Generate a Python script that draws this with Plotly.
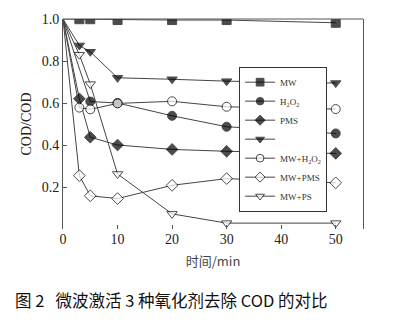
import plotly.graph_objects as go

t_all = [0, 3, 5, 10, 20, 30, 50]
t_h2o2 = [0, 5, 10, 20, 30, 50]

mw = [1.0, 0.999, 0.999, 0.995, 0.995, 0.995, 0.982]
h2o2 = [1.0, 0.607, 0.600, 0.539, 0.487, 0.455]
pms = [1.0, 0.62, 0.437, 0.40, 0.379, 0.37, 0.36]
ps = [1.0, 0.874, 0.844, 0.72, 0.713, 0.704, 0.695]
mw_h2o2 = [1.0, 0.578, 0.57, 0.598, 0.608, 0.582, 0.571]
mw_pms = [1.0, 0.254, 0.158, 0.145, 0.208, 0.24, 0.22]
mw_ps = [1.0, 0.83, 0.69, 0.262, 0.072, 0.028, 0.028]

x_ticks = [0, 10, 20, 30, 40, 50]
y_ticks = [0.2, 0.4, 0.6, 0.8, 1.0]
y_ticktext = ["0.2", "0.4", "0.6", "0.8", "1.0"]

series = [
    ("MW", t_all, mw, "square", "black"),
    ("H<sub>2</sub>O<sub>2</sub>", t_h2o2, h2o2, "circle", "black"),
    ("PMS", t_all, pms, "diamond", "black"),
    (" ", t_all, ps, "triangle-down", "black"),
    ("MW+H<sub>2</sub>O<sub>2</sub>", t_all, mw_h2o2, "circle", "white"),
    ("MW+PMS", t_all, mw_pms, "diamond", "white"),
    ("MW+PS", t_all, mw_ps, "triangle-down", "white"),
]

fig = go.Figure()
for name, xs, ys, sym, fill in series:
    # no marker drawn at the starting point (t = 0)
    sizes = [0] + [9] * (len(xs) - 1)
    fig.add_trace(go.Scatter(
        x=xs, y=ys, name=name, mode="lines+markers",
        line=dict(color="#444444", width=1),
        marker=dict(symbol=sym, size=sizes, color=fill,
                    line=dict(color="black", width=1)),
        cliponaxis=True,
    ))

serif = "Liberation Serif, Times New Roman, serif"
caption = "图\u00a02\u00a0\u00a0\u00a0微波激活\u00a03\u00a0种氧化剂去除\u00a0COD\u00a0的对比"
fig.update_layout(
    width=393, height=324,
    margin=dict(l=63, r=30, t=13, b=95),
    paper_bgcolor="white", plot_bgcolor="white",
    font=dict(family=serif, color="#222222", size=13),
    showlegend=True,
    legend=dict(
        x=0.587, y=0.773, xanchor="left", yanchor="top",
        bgcolor="white", bordercolor="#333333", borderwidth=1,
        font=dict(family=serif, size=9, color="#333333"),
        itemwidth=30, tracegroupgap=0,
    ),
    xaxis=dict(
        range=[0, 55], tickvals=x_ticks, ticks="inside", ticklen=4,
        tickcolor="#555555", showgrid=False, zeroline=False,
        showline=False,
        tickfont=dict(family=serif, size=14, color="#222222"),
        title=dict(text="时间/min", standoff=10,
                   font=dict(family="Noto Sans CJK SC", size=13, color="#444444")),
    ),
    yaxis=dict(
        range=[0, 1.0], tickvals=y_ticks, ticktext=y_ticktext,
        ticks="inside", ticklen=4, tickcolor="#555555",
        showgrid=False, zeroline=False,
        showline=True, linecolor="#555555", linewidth=1, mirror=True,
        tickfont=dict(family=serif, size=14, color="#222222"),
        title=dict(text="COD/COD", standoff=6,
                   font=dict(family=serif, size=14, color="#222222")),
    ),
    shapes=[dict(type="line", xref="paper", yref="paper", x0=0, x1=1, y0=1, y1=1,
                 line=dict(color="#555555", width=1))],
    annotations=[dict(
        text=caption,
        xref="paper", yref="paper", x=-0.167, y=-0.34,
        xanchor="left", yanchor="middle", showarrow=False,
        font=dict(family="Noto Sans CJK SC", size=16.5, color="#111111"),
    )],
)

fig.write_html("out.html")
